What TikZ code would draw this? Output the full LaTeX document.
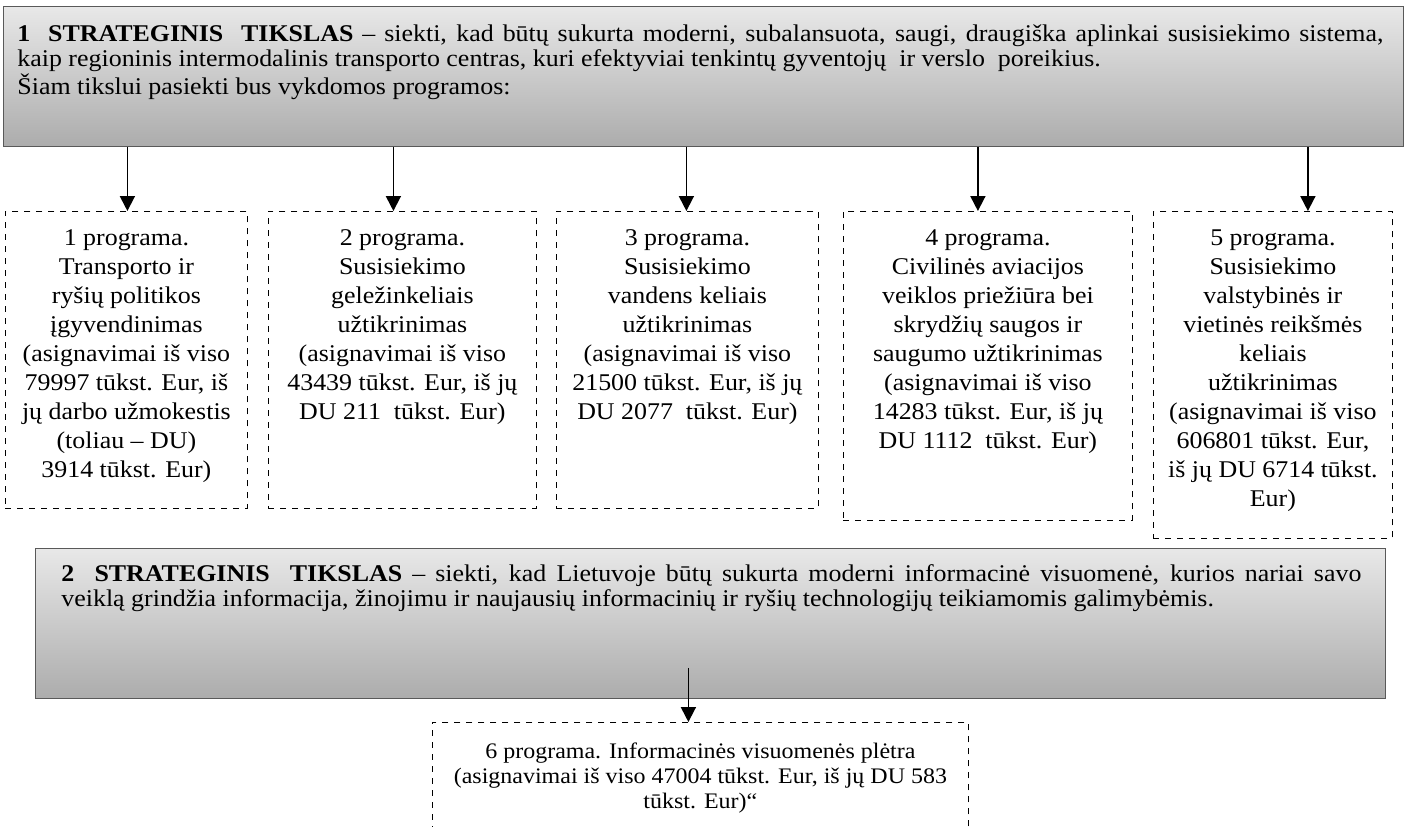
\documentclass[tikz,border=0pt]{standalone}
\usepackage{fontspec}
\setmainfont[FakeStretch=1.08]{Liberation Serif}
\usetikzlibrary{arrows.meta,positioning,calc}

\begin{document}
\begin{tikzpicture}[x=0.5pt,y=-0.5pt,
  goalbox/.style={draw=gray!70!black,top color=gray!18,bottom color=gray!65,anchor=north west,inner sep=0pt},
  progbox/.style={draw,dash pattern=on 3pt off 3pt,anchor=north west,inner sep=0pt},
  txt/.style={inner sep=0pt,font=\fontsize{12}{14.5}\selectfont},
  goaltxt/.style={inner sep=0pt,align=justify,font=\fontsize{12}{12.6}\selectfont},
  arr/.style={line width=0.9pt,-{Triangle[width=7.5pt,length=7.5pt]}}]
\useasboundingbox (0,0) rectangle (1407,826);
% strateginiai tikslai
\node[goalbox,minimum width=700pt,minimum height=70pt] (goal1) at (3,6) {};
\node[goaltxt,text width=683pt,below right=9pt and 7pt of goal1.north west] (g1text)
  {\textbf{1\ \ STRATEGINIS\ \ TIKSLAS} -- siekti, kad būtų sukurta moderni, subalansuota, saugi, draugiška aplinkai susisiekimo sistema,\linebreak
   kaip regioninis intermodalinis transporto centras, kuri efektyviai tenkintų gyventojų\ \ ir verslo\ \ poreikius.\\
   Šiam tikslui pasiekti bus vykdomos programos:};
\node[goalbox,minimum width=675pt,minimum height=75pt] (goal2) at (35,548) {};
\node[goaltxt,text width=650pt,below right=8pt and 13pt of goal2.north west] (g2text)
  {\textbf{2\ \ STRATEGINIS\ \ TIKSLAS} -- siekti, kad Lietuvoje būtų sukurta moderni informacinė visuomenė, kurios nariai savo\linebreak
   veiklą grindžia informacija, žinojimu ir naujausių informacinių ir ryšių technologijų teikiamomis galimybėmis.};
% programos
\node[progbox,minimum width=121pt,minimum height=148.5pt] (p1) at (5,211) {};
\node[progbox,minimum width=134pt,minimum height=148.5pt] (p2) at (268,211) {};
\node[progbox,minimum width=131pt,minimum height=148.5pt] (p3) at (556,211) {};
\node[progbox,minimum width=144.5pt,minimum height=154.5pt] (p4) at (843,211) {};
\node[progbox,minimum width=119.5pt,minimum height=163.5pt] (p5) at (1153,211) {};
\node[progbox,minimum width=268pt,minimum height=60pt] (p6) at (432,722) {};
\node[txt,align=center,below=9pt of p1.north] (t1)
  {1 programa.\\ Transporto ir\\ ryšių politikos\\ įgyvendinimas\\ (asignavimai iš viso\\ 79997 tūkst. Eur, iš\\ jų darbo užmokestis\\ (toliau -- DU)\\ 3914 tūkst. Eur)};
\node[txt,align=center,below=9pt of p2.north] (t2)
  {2 programa.\\ Susisiekimo\\ geležinkeliais\\ užtikrinimas\\ (asignavimai iš viso\\ 43439 tūkst. Eur, iš jų\\ DU 211\ \ tūkst. Eur)};
\node[txt,align=center,below=9pt of p3.north] (t3)
  {3 programa.\\ Susisiekimo\\ vandens keliais\\ užtikrinimas\\ (asignavimai iš viso\\ 21500 tūkst. Eur, iš jų\\ DU 2077\ \ tūkst. Eur)};
\node[txt,align=center,below=9pt of p4.north] (t4)
  {4 programa.\\ Civilinės aviacijos\\ veiklos priežiūra bei\\ skrydžių saugos ir\\ saugumo užtikrinimas\\ (asignavimai iš viso\\ 14283 tūkst. Eur, iš jų\\ DU 1112\ \ tūkst. Eur)};
\node[txt,align=center,below=9pt of p5.north] (t5)
  {5 programa.\\ Susisiekimo\\ valstybinės ir\\ vietinės reikšmės\\ keliais\\ užtikrinimas\\ (asignavimai iš viso\\ 606801 tūkst. Eur,\\ iš jų DU 6714 tūkst.\\ Eur)};
\node[txt,align=center,font=\fontsize{11.1}{12.6}\selectfont,below=10pt of p6.north] (t6)
  {6 programa. Informacinės visuomenės plėtra\\ (asignavimai iš viso 47004 tūkst. Eur, iš jų DU 583\\ tūkst. Eur)“};
% rodyklės
\foreach \p/\dx in {1/1,2/-9,3/-1,4/-10,5/35}{
  \coordinate (in\p) at ($(p\p.north)+(\dx,0)$);
  \draw[arr] (goal1.south -| in\p) -- (in\p);
}
\coordinate (in6) at ($(p6.north)+(-12,0)$);
\coordinate (out6) at ($(goal2.south -| in6)+(0,-31)$);
\draw[arr] (out6) -- (in6);
\end{tikzpicture}
\end{document}
